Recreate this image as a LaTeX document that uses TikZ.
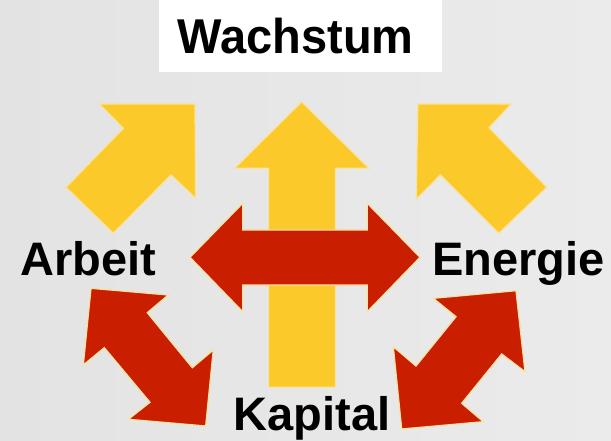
\documentclass[tikz,border=0pt]{standalone}
\usepackage{fontspec}
\setmainfont{Liberation Sans}
\definecolor{bgl}{HTML}{E3E3E3}
\definecolor{bgr}{HTML}{EBEBEB}
\definecolor{ayel}{HTML}{FBCA2A}
\definecolor{ared}{HTML}{C91E00}
\definecolor{aout}{HTML}{F8E3A6}
\tikzset{
  yarrow/.style={fill=ayel, draw=aout, line width=1.3pt, line join=miter},
  rarrow/.style={fill=ared, draw=aout, line width=1.3pt, line join=miter},
  lbl/.style={inner sep=0pt, anchor=base west, font=\fontsize{47}{47}\selectfont\bfseries, text=black}
}
\begin{document}
\begin{tikzpicture}[x=1pt, y=-1pt]
\useasboundingbox (0,0) rectangle (611,441);
\shade[left color=bgl, right color=bgr] (0,0) rectangle (611,441);
% title box
\fill[white] (159,0) rectangle (441.5,71.7);
\node[lbl, yscale=1.04] (wachstum) at (177.5,53.3) {Wachstum};
% yellow arrows
\draw[yarrow] (195,104) -- (99.3,104) -- (123.3,128.3) -- (66,187.3) -- (113.3,233.3) -- (171,175) -- (195.7,198.3) -- cycle;
\draw[yarrow] (417.8,104) -- (511.3,104) -- (489.1,127.7) -- (546.8,187.3) -- (498.8,233.3) -- (440.4,175) -- (416.2,199.3) -- cycle;
\draw[yarrow] (301.7,101.7) -- (369,168.3) -- (335.5,168.3) -- (335.5,387.3) -- (268.5,387.3) -- (268.5,168.3) -- (234.5,168.3) -- cycle;
% red horizontal double arrow
\draw[rarrow] (190,257.3) -- (242.7,203.3) -- (242.7,230) -- (367.3,230) -- (367.3,203.3) -- (420,257.3) -- (367.3,311.7) -- (367.3,285) -- (242.7,285) -- (242.7,311.7) -- cycle;
% red diagonal double arrows
\draw[rarrow] (91,288.3) -- (168.3,295) -- (147.3,312.7) -- (192.3,367.7) -- (213.3,350) -- (205.7,426) -- (128.3,419.3) -- (150,402.3) -- (104.3,347.7) -- (83.3,365) -- cycle;
\draw[rarrow] (516,290.7) -- (525,371.7) -- (501.7,354) -- (461.7,403.3) -- (483.3,421.7) -- (401.7,429) -- (393.3,346.7) -- (416,366) -- (456,316.7) -- (433.3,298.3) -- cycle;
% labels
\node[lbl] (arbeit) at (20,275) {Arbeit};
\node[lbl] (energie) at (431.8,276) {Energie};
\node[lbl] (kapital) at (233.3,430) {Kapital};
\end{tikzpicture}
\end{document}
